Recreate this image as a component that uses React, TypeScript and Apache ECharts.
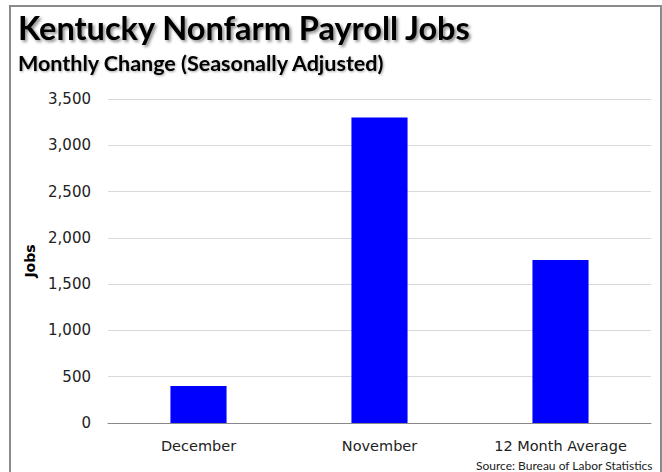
import React, { useEffect, useRef } from "react";
import * as echarts from "echarts";

const categories = ["December", "November", "12 Month Average"];
const jobsValues = [400, 3300, 1760];
const yTicks = { min: 0, max: 3500, interval: 500 };
const titleText = "Kentucky Nonfarm Payroll Jobs";
const subtitleText = "Monthly Change (Seasonally Adjusted)";
const yAxisName = "Jobs";
const sourceText = "Source: Bureau of Labor Statistics";

export default function App() {
  const ref = useRef<HTMLDivElement>(null);
  useEffect(() => {
    const chart = echarts.init(ref.current!, null, { renderer: "svg" });
    const font = "Lato, 'Noto Sans', sans-serif";
    const axisFont = "'DejaVu Sans', sans-serif";
    chart.setOption({
      animation: false,
      backgroundColor: "#ffffff",
      textStyle: { fontFamily: font },
      graphic: [
        {
          type: "rect",
          shape: { x: 10, y: 6, width: 651, height: 480 },
          style: { fill: "none", stroke: "#8a8a8a", lineWidth: 2 },
          silent: true,
        },
        {
          type: "text",
          left: 18,
          top: 11,
          style: {
            text: titleText,
            font: `bold 32.5px ${font}`,
            fill: "#000",
            textShadowColor: "rgba(0,0,0,0.45)",
            textShadowBlur: 3,
            textShadowOffsetX: 2,
            textShadowOffsetY: 2,
          },
        },
        {
          type: "text",
          left: 18,
          top: 52,
          style: {
            text: subtitleText,
            font: `bold 21.5px ${font}`,
            fill: "#000",
            textShadowColor: "rgba(0,0,0,0.35)",
            textShadowBlur: 2,
            textShadowOffsetX: 1,
            textShadowOffsetY: 1,
          },
        },
        {
          type: "text",
          right: 9,
          top: 459,
          style: {
            text: sourceText,
            font: `12px ${font}`,
            fill: "#222",
          },
        },
      ],
      grid: { left: 108, right: 11, top: 99, bottom: 49, containLabel: false },
      xAxis: {
        type: "category",
        data: categories,
        axisLine: { lineStyle: { color: "#888", width: 1 } },
        axisTick: { show: false },
        axisLabel: { color: "#222", fontSize: 14.5, margin: 15, fontFamily: axisFont },
      },
      yAxis: {
        type: "value",
        min: yTicks.min,
        max: yTicks.max,
        interval: yTicks.interval,
        name: yAxisName,
        nameLocation: "middle",
        nameGap: 68,
        nameRotate: 90,
        nameTextStyle: { fontWeight: "bold", fontSize: 14, color: "#000", fontFamily: axisFont },
        axisLine: { show: false },
        axisTick: { show: false },
        axisLabel: {
          color: "#222",
          fontSize: 15,
          margin: 17,
          fontFamily: axisFont,
          formatter: (v: number) => v.toLocaleString("en-US"),
        },
        splitLine: { lineStyle: { color: "#d9d9d9", width: 1 } },
      },
      series: [
        {
          type: "bar",
          data: jobsValues,
          barWidth: "31%",
          itemStyle: { color: "#0000ff" },
        },
      ],
    });
    return () => chart.dispose();
  }, []);
  return (
    <div
      ref={ref}
      style={{ position: "fixed", left: 0, top: 0, width: 662, height: 472 }}
    />
  );
}
